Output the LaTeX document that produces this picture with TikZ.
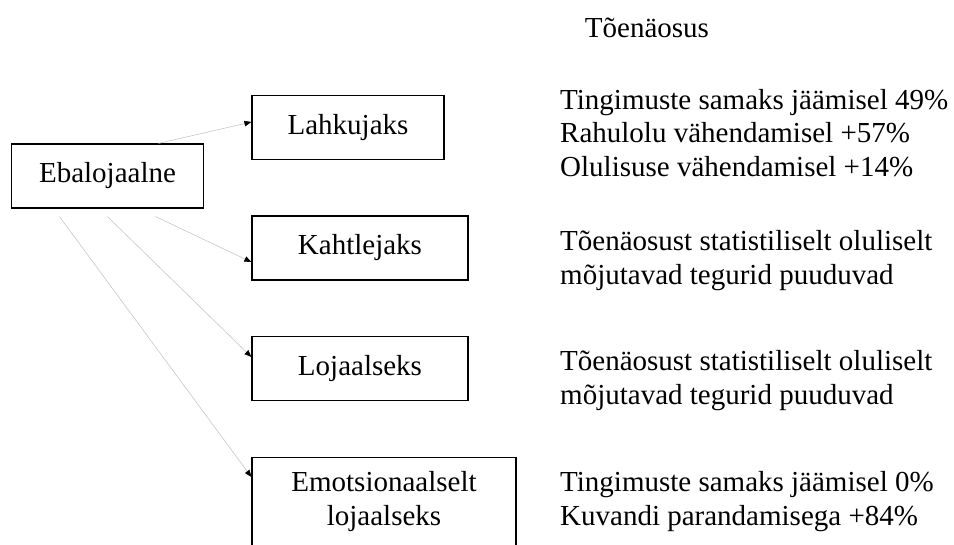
\documentclass[tikz,border=0pt]{standalone}
\usepackage{fontspec}
\setmainfont{Liberation Serif}
\usetikzlibrary{arrows.meta}
\begin{document}
\begin{tikzpicture}[x=1pt,y=-1pt,
  every node/.style={font=\fontsize{29}{33.5}\selectfont, inner sep=0pt},
  statebox/.style={draw=black, line width=1.2pt, minimum width=192pt, minimum height=64pt},
  note/.style={anchor=west, align=left},
  link/.style={draw=black!22, line width=0.6pt,
    -{Triangle[length=7pt,width=5.5pt,color=black]}}]
  \useasboundingbox (0,0) rectangle (954,545);
  \clip (0,0) rectangle (954,545);

  % source state
  \node[statebox] (ebal) at (107.5,176) {Ebalojaalne};

  % target states
  \node[statebox] (lahk) at (348,127.5) {Lahkujaks};
  \node[statebox, minimum width=216pt] (kaht) at (360,248) {Kahtlejaks};
  \node[statebox, minimum width=216pt] (loja) at (360,368.5) {Lojaalseks};
  \node[statebox, minimum width=264pt, minimum height=110pt, anchor=north] (emot) at (384,457) {};
  \node[align=center] (emottxt) at (384,501.5) {Emotsionaalselt\\lojaalseks};

  % column heading and probabilities
  \node (head) at (647,28) {Tõenäosus};
  \node[note] (p1) at (560,133) {Tingimuste samaks jäämisel 49\%\\Rahulolu vähendamisel +57\%\\Olulisuse vähendamisel +14\%};
  \node[note] (p2) at (560,260.5) {Tõenäosust statistiliselt oluliselt\\mõjutavad tegurid puuduvad};
  \node[note] (p3) at (560,380.5) {Tõenäosust statistiliselt oluliselt\\mõjutavad tegurid puuduvad};
  \node[note] (p4) at (560,501.5) {Tingimuste samaks jäämisel 0\%\\Kuvandi parandamisega +84\%};

  % connector start and end points
  \coordinate (s1) at ([xshift=51pt]ebal.north);
  \coordinate (s2) at ([xshift=48pt,yshift=-8pt]ebal.south);
  \coordinate (s3) at ([yshift=-8pt]ebal.south);
  \coordinate (s4) at ([xshift=-48pt,yshift=-8pt]ebal.south);
  \coordinate (e1) at ([yshift=5.5pt]lahk.west);
  \coordinate (e2) at ([yshift=-14pt]kaht.west);
  \coordinate (e3) at ([yshift=11.5pt]loja.west);
  \coordinate (e4) at ([yshift=-20pt]emot.north west);

  \draw[link] (s1) -- (e1);
  \draw[link] (s2) -- (e2);
  \draw[link] (s3) -- (e3);
  \draw[link] (s4) -- (e4);
\end{tikzpicture}
\end{document}
